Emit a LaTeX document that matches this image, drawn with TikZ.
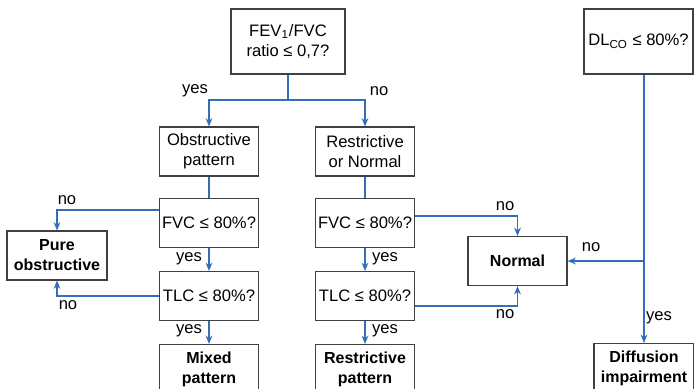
\documentclass[tikz,border=0pt]{standalone}
\usepackage{fontspec}
\setmainfont{Liberation Sans}
\usetikzlibrary{arrows.meta}
\definecolor{flowblue}{RGB}{52,110,186}
\definecolor{boxgray}{RGB}{64,64,64}
\tikzset{
  box/.style = {draw=boxgray, line width=0.55pt, align=center, inner sep=1pt,
                minimum width=49.5pt, minimum height=24.5pt,
                font=\fontsize{8.3}{10}\selectfont},
  bbox/.style = {box, font=\fontsize{8}{10}\selectfont\bfseries},
  link/.style = {draw=flowblue, line width=0.55pt},
  arr/.style = {link, -{Stealth[length=4.2pt,width=3.4pt]}},
  lbl/.style = {inner sep=0pt, font=\fontsize{8.3}{10}\selectfont}
}
\begin{document}
\begin{tikzpicture}[x=0.5pt, y=-0.5pt]
  \useasboundingbox (0,0) rectangle (694,388);
  % top questions
  \node[box, minimum width=57pt, minimum height=32.5pt] (fev) at (288,41.5) {FEV\textsubscript{1}/FVC\\ratio ≤ 0,7?};
  \node[box, minimum width=54.5pt, minimum height=32.5pt] (dlco) at (638.5,41.5) {DL\textsubscript{CO} ≤ 80\%?};
  % obstructive side
  \node[box] (obst) at (209,151.5) {Obstructive\\pattern};
  \node[box] (fvcl) at (209,223) {FVC ≤ 80\%?};
  \node[box] (tlcl) at (209,296) {TLC ≤ 80\%?};
  \node[bbox] (mixed) at (209,369) {Mixed\\pattern};
  \node[bbox, minimum width=50pt] (pure) at (57,255.5) {Pure\\obstructive};
  % restrictive side
  \node[box] (restr) at (365,151.5) {Restrictive\\or Normal};
  \node[box] (fvcr) at (365,223) {FVC ≤ 80\%?};
  \node[box] (tlcr) at (365,296) {TLC ≤ 80\%?};
  \node[bbox] (restrp) at (365,369) {Restrictive\\pattern};
  \node[bbox] (normal) at (517.5,261) {Normal};
  \node[bbox, minimum width=50pt] (diff) at (644,368) {Diffusion\\impairment};
  % connectors
  \coordinate (split) at (288,100);
  \draw[link] (fev) -- (split);
  \draw[arr] (split) -| (obst);
  \draw[arr] (split) -| (restr);
  \node[lbl] (yes0) at (195,91) {yes};
  \node[lbl] (no0) at (379,91) {no};

  \draw[link] (obst) -- (fvcl);
  \draw[arr] (fvcl) -- (tlcl);
  \draw[arr] (tlcl) -- (mixed);
  \draw[arr] ([yshift=6.5pt]fvcl.west) -| (pure);
  \draw[arr] (tlcl.west) -| (pure);
  \node[lbl] (yes1) at (189,259) {yes};
  \node[lbl] (yes2) at (189,331) {yes};
  \node[lbl] (no1) at (67,200) {no};
  \node[lbl] (no2) at (68,305) {no};

  \draw[link] (restr) -- (fvcr);
  \draw[arr] (fvcr) -- (tlcr);
  \draw[arr] (tlcr) -- (restrp);
  \draw[arr] ([yshift=3.5pt]fvcr.east) -| (normal);
  \draw[arr] ([yshift=-5pt]tlcr.east) -| (normal);
  \node[lbl] (yes3) at (385,259) {yes};
  \node[lbl] (yes4) at (385,331) {yes};
  \node[lbl] (no3) at (505,206) {no};
  \node[lbl] (no4) at (505,314) {no};

  \coordinate (dlsplit) at (644,261);
  \draw[arr] ([xshift=2.75pt]dlco.south) -- (diff);
  \draw[arr] (dlsplit) -- (normal);
  \node[lbl] (no5) at (591,247) {no};
  \node[lbl] (yes5) at (659,318) {yes};
\end{tikzpicture}
\end{document}
